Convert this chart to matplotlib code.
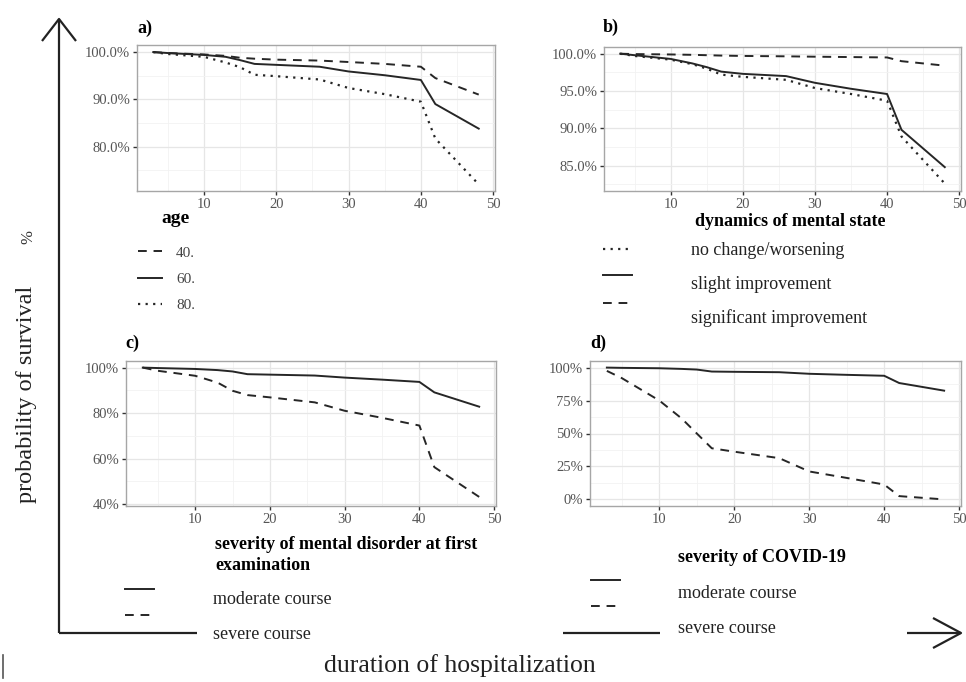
import matplotlib
matplotlib.use("Agg")
import matplotlib.pyplot as plt
from matplotlib.lines import Line2D
from matplotlib.legend_handler import HandlerLine2D
from matplotlib.ticker import FixedLocator, FuncFormatter

plt.rcParams['font.family'] = ['Liberation Serif', 'DejaVu Serif']

# days of hospitalization (event times)
days = [3, 5, 10, 13, 15, 17, 20, 26, 30, 35, 40, 42, 48]

# a) age
age_labels = ['40.', '60.', '80.']
age_40 = [100, 99.8, 99.5, 99.2, 98.8, 98.6, 98.4, 98.2, 97.9, 97.5, 96.9, 94.5, 91.0]
age_60 = [100, 99.8, 99.4, 99.0, 98.3, 97.5, 97.3, 96.9, 95.9, 95.1, 94.1, 89.0, 83.8]
age_80 = [100, 99.6, 99.0, 97.8, 96.8, 95.2, 94.9, 94.2, 92.4, 91.1, 89.5, 81.7, 72.0]

# b) dynamics of mental state
dyn_labels = ['no change/worsening', 'slight improvement', 'significant improvement']
dyn_none = [100, 99.7, 99.2, 98.6, 98.0, 97.2, 96.9, 96.5, 95.4, 94.6, 93.7, 88.9, 82.6]
dyn_slight = [100, 99.8, 99.3, 98.7, 98.2, 97.6, 97.3, 97.0, 96.1, 95.3, 94.6, 89.8, 84.8]
dyn_signif = [100, 99.95, 99.9, 99.85, 99.8, 99.75, 99.7, 99.65, 99.6, 99.55, 99.5, 99.0, 98.4]

# c) severity of mental disorder at first examination
sev_labels = ['moderate course', 'severe course']
mental_mod = [100, 99.8, 99.4, 98.9, 98.3, 97.1, 96.9, 96.5, 95.6, 94.7, 93.7, 89.1, 82.8]
mental_sev = [100, 98.6, 96.4, 93.4, 89.8, 87.9, 86.9, 84.7, 81.0, 77.9, 74.5, 56.2, 43.1]

# d) severity of COVID-19
covid_mod = [100, 99.8, 99.5, 99.0, 98.5, 97.0, 96.8, 96.5, 95.3, 94.5, 93.8, 88.3, 82.5]
covid_sev = [97.5, 92.0, 75.0, 61.3, 50.0, 38.8, 36.2, 31.3, 21.2, 16.3, 11.3, 2.5, 0.0]

W, H = 966, 682
fig = plt.figure(figsize=(W / 100, H / 100), dpi=100)


def px(x, y):
    return x / W, 1 - y / H


def rect(l, t, r, b):
    return [l / W, 1 - b / H, (r - l) / W, (b - t) / H]


dash = (0, (4.5, 3.5))
dot = (0, (1, 2.4))
lc = '#262626'


def style(ax, ylim, yticks, yminor, fmt):
    ax.set_xlim(0.75, 50.25)
    ax.set_ylim(*ylim)
    ax.xaxis.set_major_locator(FixedLocator([10, 20, 30, 40, 50]))
    ax.xaxis.set_minor_locator(FixedLocator([5, 15, 25, 35, 45]))
    ax.yaxis.set_major_locator(FixedLocator(yticks))
    ax.yaxis.set_minor_locator(FixedLocator(yminor))
    ax.yaxis.set_major_formatter(FuncFormatter(lambda v, p: fmt % v))
    ax.grid(which='major', color='#e6e6e6', lw=0.9)
    ax.grid(which='minor', color='#f2f2f2', lw=0.6)
    ax.set_axisbelow(True)
    for s in ax.spines.values():
        s.set_color('#a6a6a6')
        s.set_linewidth(1.0)
    ax.tick_params(which='major', length=3, width=1, color='#333333',
                   labelsize=10.5, labelcolor='#555555', pad=2)
    ax.tick_params(which='minor', length=0)


# panel a
ax_a = fig.add_axes(rect(137, 45, 495, 191))
la = [ax_a.plot(days, age_40, ls=dash, color=lc, lw=1.4)[0],
      ax_a.plot(days, age_60, ls='-', color=lc, lw=1.4)[0],
      ax_a.plot(days, age_80, ls=dot, color=lc, lw=1.6)[0]]
style(ax_a, (70.6, 101.5), [80, 90, 100], [75, 85, 95], '%.1f%%')

# panel b
ax_b = fig.add_axes(rect(604, 47, 961, 191))
lb = [ax_b.plot(days, dyn_none, ls=dot, color=lc, lw=1.6)[0],
      ax_b.plot(days, dyn_slight, ls='-', color=lc, lw=1.4)[0],
      ax_b.plot(days, dyn_signif, ls=dash, color=lc, lw=1.4)[0]]
style(ax_b, (81.6, 100.9), [85, 90, 95, 100], [82.5, 87.5, 92.5, 97.5], '%.1f%%')

# panel c
ax_c = fig.add_axes(rect(126, 361, 496, 506))
lcc = [ax_c.plot(days, mental_mod, ls='-', color=lc, lw=1.4)[0],
       ax_c.plot(days, mental_sev, ls=dash, color=lc, lw=1.4)[0]]
style(ax_c, (39.1, 102.9), [40, 60, 80, 100], [50, 70, 90], '%d%%')

# panel d
ax_d = fig.add_axes(rect(590, 361, 961, 506))
ld = [ax_d.plot(days, covid_mod, ls='-', color=lc, lw=1.4)[0],
      ax_d.plot(days, covid_sev, ls=dash, color=lc, lw=1.4)[0]]
style(ax_d, (-5, 105), [0, 25, 50, 75, 100], [12.5, 37.5, 62.5, 87.5], '%d%%')

# panel letters
for lab, (x, y) in zip(['a)', 'b)', 'c)', 'd)'], [(137, 28), (603, 27), (125, 343), (590, 343)]):
    fig.text(*px(x, y), lab, fontsize=13, fontweight='bold', va='center', ha='left')

# legend titles
fig.text(*px(161, 219), 'age', fontsize=14, fontweight='bold', va='center')
fig.text(*px(695, 222), 'dynamics of mental state', fontsize=13, fontweight='bold', va='center')
fig.text(*px(215, 555), 'severity of mental disorder at first\nexamination', fontsize=13,
         fontweight='bold', va='center', linespacing=1.25)
fig.text(*px(678, 558), 'severity of COVID-19', fontsize=13, fontweight='bold', va='center')


class RaisedKey(HandlerLine2D):
    # legend key drawn a few pixels above its label, as in the original
    def __init__(self, up_px, **kw):
        super().__init__(**kw)
        self.up = up_px * 0.72

    def create_artists(self, legend, orig_handle, xdescent, ydescent, width, height,
                       fontsize, trans):
        return super().create_artists(legend, orig_handle, xdescent, ydescent - 2 * self.up,
                                      width, height, fontsize, trans)


def legend(handles, labels, x, y, size, spacing, gap, raise_px, color='#222222'):
    hmap = {h: RaisedKey(r) for h, r in zip(handles, raise_px)}
    leg = fig.legend(handles, labels, loc='upper left', bbox_to_anchor=px(x, y),
                     bbox_transform=fig.transFigure, frameon=False, fontsize=size,
                     handlelength=1.6, handletextpad=gap, labelspacing=spacing,
                     borderpad=0, borderaxespad=0, handler_map=hmap)
    for t in leg.get_texts():
        t.set_color(color)
    return leg


legend(la, age_labels, 138, 246, 11, 0.82, 0.9, [0, 0, 0], color='#444444')
legend(lb, dyn_labels, 603, 242, 13, 0.92, 3.3, [0, 7, 14])
legend(lcc, sev_labels, 125, 591, 13, 1.0, 3.3, [9, 18])
legend(ld, sev_labels, 591, 585, 13, 1.0, 3.2, [12, 21])

# hand-drawn axes of the composite figure
deco = fig.add_axes([0, 0, 1, 1], zorder=-1)
deco.set_xlim(0, W)
deco.set_ylim(H, 0)
deco.axis('off')
k = dict(color='#222222', lw=1.6, solid_capstyle='butt')
deco.add_line(Line2D([59, 59], [19, 633], **k))
deco.add_line(Line2D([42, 59, 76], [41, 19, 41], **k))
deco.add_line(Line2D([59, 197], [633, 633], **k))
deco.add_line(Line2D([563, 660], [633, 633], **k))
deco.add_line(Line2D([907, 961], [633, 633], **k))
deco.add_line(Line2D([933, 961, 933], [618, 633, 648], **k))
deco.add_line(Line2D([3, 3], [655, 678], color='#555555', lw=1.2))

fig.text(*px(27, 394), 'probability of survival', rotation=90, fontsize=17.5,
         va='center', ha='center', color='#222222')
fig.text(*px(28, 237), '%', rotation=90, fontsize=12, va='center', ha='center', color='#333333')
fig.text(*px(460, 666), 'duration of hospitalization', fontsize=18.5,
         va='center', ha='center', color='#222222')

fig.savefig('out.png', dpi=100)
